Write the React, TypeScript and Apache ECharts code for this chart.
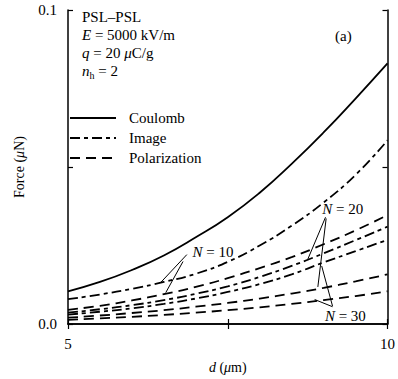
import React, { useEffect, useRef } from "react";
import * as echarts from "echarts";

// particle diameter d (µm) sample points
const dValues = [5, 5.5, 6, 6.5, 7, 7.5, 8, 8.5, 9, 9.5, 10];

// forces in µN
const coulomb = [0.0104, 0.0134, 0.0172, 0.0218, 0.0276, 0.034, 0.0418, 0.051, 0.061, 0.0718, 0.083];
const imageN10 = [0.0079, 0.0094, 0.0112, 0.0134, 0.016, 0.0198, 0.025, 0.0313, 0.0387, 0.0475, 0.0585];
const imageN20 = [0.0036, 0.0047, 0.006, 0.0076, 0.0096, 0.012, 0.015, 0.0185, 0.0225, 0.0267, 0.031];
const imageN30 = [0.003, 0.0039, 0.005, 0.0064, 0.0081, 0.0102, 0.0127, 0.0158, 0.0196, 0.0232, 0.0268];
const polarN10 = [0.0045, 0.0058, 0.0075, 0.0095, 0.0118, 0.0146, 0.0178, 0.0213, 0.0254, 0.0298, 0.0347];
const polarN20 = [0.002, 0.0027, 0.0035, 0.0044, 0.0055, 0.0067, 0.0081, 0.0097, 0.0115, 0.0136, 0.0158];
const polarN30 = [0.0013, 0.0018, 0.0023, 0.0029, 0.0036, 0.0044, 0.0053, 0.0064, 0.0076, 0.0089, 0.0104];

const xTickLabels = ["5", "10"];
const yTickLabels = ["0.0", "0.1"];
const legendNames = ["Coulomb", "Image", "Polarization"];

// N-labels: text anchor and pointer tips, in data coordinates
const nLabels = [
  { text: "10", at: [6.95, 0.023], from: [[6.86, 0.0221], [6.8, 0.0199]], to: [[6.45, 0.0132], [6.53, 0.01]] },
  { text: "20", at: [8.98, 0.0366], from: [[9.03, 0.034], [9.04, 0.0336]], to: [[8.75, 0.0205], [8.91, 0.0118]] },
  { text: "30", at: [9.02, 0.0025], from: [[9.14, 0.0057], [9.14, 0.0055]], to: [[8.97, 0.0185], [8.86, 0.0078]] },
];

const FONT = "Liberation Serif";
const SOLID: number[] = [];
const DASH: number[] = [10, 6];
const DASH_DOT: number[] = [10, 4, 4, 4];
const LINE_W = 1.8;

const pairs = (ys: number[]) => dValues.map((x, i) => [x, ys[i]]);

export default function App() {
  const ref = useRef<HTMLDivElement>(null);

  useEffect(() => {
    if (!ref.current) return;
    const chart = echarts.init(ref.current, undefined, { renderer: "svg" });

    const curve = (name: string, ys: number[], dash: number[]) => ({
      name,
      type: "line",
      data: pairs(ys),
      smooth: true,
      showSymbol: false,
      symbol: "none",
      lineStyle: { color: "#000", width: LINE_W, type: dash.length ? dash : "solid" },
      itemStyle: { color: "#000" },
      silent: true,
    });

    const pointerSeries = nLabels.flatMap((lab) =>
      lab.to.map((tip, k) => ({
        type: "line",
        data: [lab.from[k], tip],
        showSymbol: false,
        symbol: "none",
        lineStyle: { color: "#000", width: 1 },
        silent: true,
      }))
    );

    const axisCommon = {
      axisLine: { show: true, lineStyle: { color: "#000", width: 1.5 } },
      axisTick: { show: true, inside: true, length: 5, lineStyle: { color: "#000", width: 1.2 } },
      splitLine: { show: false },
    };
    const italic = { fontStyle: "italic", fontSize: 14, fontFamily: FONT, color: "#000" };

    chart.setOption({
      animation: false,
      textStyle: { fontFamily: FONT },
      grid: { left: 68, right: 10, top: 10, bottom: 51 },
      xAxis: [
        {
          type: "value",
          min: 5,
          max: 10,
          interval: 2.5,
          ...axisCommon,
          axisLabel: {
            color: "#000",
            fontSize: 15,
            fontFamily: FONT,
            margin: 12,
            formatter: (v: number) => (v === 5 ? xTickLabels[0] : v === 10 ? xTickLabels[1] : ""),
          },
          name: "{i|d} ({i|\u03bc}m)",
          nameLocation: "middle",
          nameGap: 36,
          nameTextStyle: { color: "#000", fontSize: 14, fontFamily: FONT, rich: { i: italic } },
        },
        {
          type: "value",
          min: 5,
          max: 10,
          interval: 2.5,
          position: "top",
          ...axisCommon,
          axisLabel: { show: false },
        },
      ],
      yAxis: [
        {
          type: "value",
          min: 0,
          max: 0.1,
          interval: 0.05,
          ...axisCommon,
          axisLabel: {
            color: "#000",
            fontSize: 15,
            fontFamily: FONT,
            margin: 11,
            padding: [7, 0, 0, 0],
            formatter: (v: number) => (v === 0 ? yTickLabels[0] : Math.abs(v - 0.1) < 1e-9 ? yTickLabels[1] : ""),
          },
          name: "Force ({i|\u03bc}N)",
          nameLocation: "middle",
          nameRotate: 90,
          nameGap: 42,
          nameTextStyle: { color: "#000", fontSize: 14, fontFamily: FONT, rich: { i: italic } },
        },
        {
          type: "value",
          min: 0,
          max: 0.1,
          interval: 0.05,
          position: "right",
          ...axisCommon,
          axisLabel: { show: false },
        },
      ],
      series: [
        curve("Coulomb", coulomb, SOLID),
        curve("Image", imageN10, DASH_DOT),
        curve("Image", imageN20, DASH_DOT),
        curve("Image", imageN30, DASH_DOT),
        curve("Polarization", polarN10, DASH),
        curve("Polarization", polarN20, DASH),
        curve("Polarization", polarN30, DASH),
        ...pointerSeries,
      ],
    });

    const rich = {
      i: { fontStyle: "italic", fontSize: 15, fontFamily: FONT, fill: "#000" },
      n: { fontSize: 15, fontFamily: FONT, fill: "#000" },
      sub: { fontSize: 10, fontFamily: FONT, fill: "#000", padding: [8, 0, 0, 0] },
    };
    const txt = (x: number, y: number, text: string) => ({
      type: "text",
      x,
      y,
      style: { text, rich, fontSize: 15, fontFamily: FONT, fill: "#000", verticalAlign: "middle" },
      silent: true,
    });

    const nGraphics = nLabels.map((lab) => {
      const p = chart.convertToPixel({ gridIndex: 0 }, lab.at) as number[];
      return txt(p[0], p[1], `{i|N}{n| = ${lab.text}}`);
    });

    // key: line sample + name for each force type
    const keyDash = [SOLID, DASH_DOT, DASH];
    const keyGraphics = legendNames.flatMap((name, k) => {
      const y = 118 + k * 20;
      return [
        {
          type: "line",
          shape: { x1: 70, y1: y, x2: 116, y2: y },
          style: { stroke: "#000", lineWidth: LINE_W, lineDash: keyDash[k].length ? keyDash[k] : null },
          silent: true,
        },
        txt(129, y, `{n|${name}}`),
      ];
    });

    chart.setOption({
      graphic: [
        txt(82, 17, "{n|PSL\u2013PSL}"),
        txt(82, 35, "{i|E}{n| = 5000 kV/m}"),
        txt(82, 53, "{i|q}{n| = 20 }{i|\u03bc}{n|C/g}"),
        txt(82, 71, "{i|n}{sub|h}{n| = 2}"),
        txt(335, 36, "{n|(a)}"),
        ...keyGraphics,
        ...nGraphics,
      ],
    });

    return () => chart.dispose();
  }, []);

  return (
    <div
      ref={ref}
      style={{ position: "fixed", left: 0, top: 0, width: 398, height: 379, background: "#fff" }}
    />
  );
}
